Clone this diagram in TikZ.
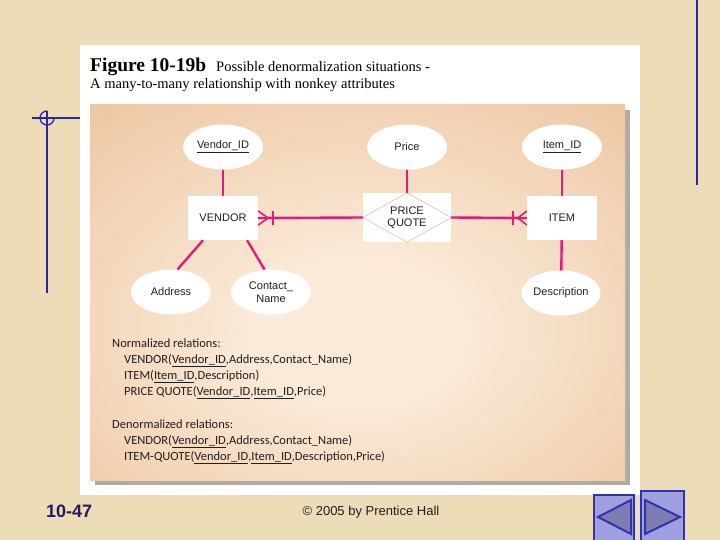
\documentclass[tikz,border=0pt]{standalone}
\usepackage{fontspec}
\setmainfont{Liberation Serif}
\setsansfont{Liberation Sans}
\newfontfamily\calibfont{Carlito}
\usetikzlibrary{shapes.geometric}

\definecolor{parch}{RGB}{236,221,184}
\definecolor{erpink}{RGB}{222,30,120}
\definecolor{deco}{RGB}{45,35,165}
\definecolor{panelout}{RGB}{229,174,127}
\definecolor{panelin}{RGB}{250,234,215}
\definecolor{diamln}{RGB}{225,200,175}
\definecolor{navbg}{RGB}{160,160,225}
\definecolor{navln}{RGB}{50,50,170}
\definecolor{navtri}{RGB}{125,125,180}
\definecolor{navy}{RGB}{40,25,95}
\definecolor{shadowgray}{RGB}{178,170,165}
\definecolor{txt}{RGB}{35,30,30}

\pgfdeclareradialshading{panelshade}{\pgfpoint{0bp}{-6bp}}{color(0bp)=(panelin); color(10bp)=(panelin); color(58bp)=(panelout); color(100bp)=(panelout)}

\begin{document}
\begin{tikzpicture}[x=1pt,y=-1pt,
  lbl/.style={font=\sffamily\fontsize{11}{12.5}\selectfont,text=txt,align=center},
  entbox/.style={lbl,fill=white,minimum width=70pt,minimum height=44pt,inner sep=0pt},
  attr/.style={lbl,ellipse,fill=white,minimum width=80pt,minimum height=45pt,inner sep=0pt},
  erline/.style={erpink,line width=2.4pt},
  erthin/.style={erpink,line width=1.6pt},
  reltext/.style={anchor=base west,inner sep=0pt,font=\calibfont\fontsize{12.5}{14}\selectfont,text=txt},
  decoline/.style={deco,line width=1.3pt},
  navbtn/.style={fill=navbg,draw=navln,line width=1.5pt},
  navarrow/.style={fill=navtri,draw=navln,line width=2pt,line join=miter}
]
\useasboundingbox (0,0) rectangle (720,540);
\fill[parch] (0,0) rectangle (720,540);

% decorative lines
\draw[decoline] (32,118) -- (80,118);
\draw[decoline] (47,111) -- (47,293);
\draw[decoline] (47,111) arc[start angle=90,end angle=360,radius=7pt];
\draw[decoline] (697,0) -- (697,185);

% white panel
\fill[white] (80,45) rectangle (640,495);
% title
\node[anchor=base west,inner sep=0pt,font=\fontsize{19.5}{22}\selectfont\bfseries] (fig) at (90,72) {Figure 10-19b};
\node[anchor=base west,inner sep=0pt,font=\fontsize{14.5}{16}\selectfont] (sub1) at (216,72) {Possible denormalization situations -};
\node[anchor=base west,inner sep=0pt,font=\fontsize{14.5}{16}\selectfont] (sub2) at (90,89) {A many-to-many relationship with nonkey attributes};

% orange panel
\fill[shadowgray] (95,110) rectangle (630,485);
\shade[shading=panelshade] (90,105) rectangle (625,480);

% entities and attributes
\node[entbox] (vendor) at (223,218) {VENDOR};
\node[entbox] (item) at (562,218) {ITEM};
\node[entbox,minimum width=88pt,minimum height=49pt] (pq) at (407,217.5) {};
\draw[diamln,line width=0.7pt] (pq.west) -- (pq.north) -- (pq.east) -- (pq.south) -- cycle;
\node[lbl] (pqtext) at (pq.center) {PRICE\\QUOTE};

\node[attr] (vid) at (223,147) {\underline{Vendor\_ID}};
\node[attr] (price) at (407,147) {Price};
\node[attr] (iid) at (562,147) {\underline{Item\_ID}};
\node[attr] (addr) at (171,292) {Address};
\node[attr] (cname) at (271,292) {Contact\_\\Name};
\node[attr,minimum width=79pt] (desc) at (561,293) {Description};

% connectors
\draw[erline] (vid) -- (vendor);
\draw[erline] (price) -- (pq);
\draw[erline] (iid) -- (item);
\draw[erline] (item) -- (desc);
\draw[erline] ([xshift=-20pt]vendor.south) -- (addr.74);
\draw[erline] ([xshift=24pt]vendor.south) -- (cname.106);
\draw[erline] (vendor.east) -- (pq.west);
\draw[erline] (pq.east) -- (item.west);
% crow's foot at VENDOR
\draw[erthin] ([yshift=-7pt]vendor.east) -- ([xshift=10pt]vendor.east) -- ([yshift=7pt]vendor.east);
\draw[erthin] ([xshift=15pt,yshift=-7pt]vendor.east) -- ([xshift=15pt,yshift=7pt]vendor.east);
% crow's foot at ITEM
\draw[erthin] ([yshift=-7pt]item.west) -- ([xshift=-9pt]item.west) -- ([yshift=7pt]item.west);
\draw[erthin] ([xshift=-14pt,yshift=-7pt]item.west) -- ([xshift=-14pt,yshift=7pt]item.west);

% relations
\node[reltext] (n0) at (112,347) {Normalized relations:};
\node[reltext] (n1) at (124,363) {VENDOR(\underline{Vendor\_ID},Address,Contact\_Name)};
\node[reltext] (n2) at (124,379) {ITEM(\underline{Item\_ID},Description)};
\node[reltext] (n3) at (124,395) {PRICE QUOTE(\underline{Vendor\_ID},\underline{Item\_ID},Price)};
\node[reltext] (d0) at (112,428) {Denormalized relations:};
\node[reltext] (d1) at (124,444) {VENDOR(\underline{Vendor\_ID},Address,Contact\_Name)};
\node[reltext] (d2) at (124,460) {ITEM-QUOTE(\underline{Vendor\_ID},\underline{Item\_ID},Description,Price)};

% footer
\node[anchor=base west,inner sep=0pt,font=\sffamily\bfseries\fontsize{18}{20}\selectfont,text=navy] (slide) at (46,517) {10-47};
\node[anchor=base,inner sep=0pt,font=\sffamily\fontsize{13}{15}\selectfont,text=txt] (copy) at (371,515) {© 2005 by Prentice Hall};

% navigation buttons
\draw[navbtn] (594,495) rectangle (634,541);
\draw[navarrow] (598,517) -- (631,500) -- (631,534) -- cycle;
\draw[navbtn] (641,491) rectangle (684,541);
\draw[navarrow] (645,500) -- (680,517) -- (645,534) -- cycle;
\end{tikzpicture}
\end{document}
